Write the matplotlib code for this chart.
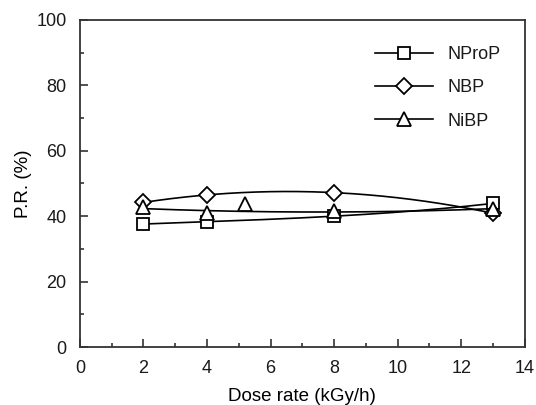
import numpy as np
import matplotlib.pyplot as plt
from matplotlib.ticker import MultipleLocator

plt.rcParams['font.family'] = ['Liberation Sans', 'DejaVu Sans']
plt.rcParams['font.size'] = 13
plt.rcParams['text.color'] = '#1a1a1a'
plt.rcParams['xtick.labelcolor'] = '#1a1a1a'
plt.rcParams['ytick.labelcolor'] = '#1a1a1a'

# dose rate (kGy/h) and P.R. (%)
x_nprop = [2, 4, 8, 13]
y_nprop = [37.6, 38.3, 40.0, 43.9]

x_nbp = [2, 4, 8, 13]
y_nbp = [44.2, 46.5, 47.2, 40.9]

x_nibp = [2, 4, 5.2, 8, 13]
y_nibp = [42.7, 41.0, 43.7, 41.7, 42.2]

series = [('NProP', x_nprop, y_nprop, 's', 9, 3),
          ('NBP', x_nbp, y_nbp, 'D', 8, 3),
          ('NiBP', x_nibp, y_nibp, '^', 10, 2)]

fig = plt.figure(figsize=(5.36, 4.05), dpi=100)
ax = fig.add_axes([0.149, 0.143, 0.830, 0.808])

for name, xs, ys, mk, ms, deg in series:
    xs = np.array(xs, dtype=float)
    ys = np.array(ys, dtype=float)
    # smooth curve; the off-curve NiBP point at 5.2 is left out of the fit
    keep = xs != 5.2
    coef = np.polyfit(xs[keep], ys[keep], deg)
    xx = np.linspace(xs.min(), xs.max(), 200)
    ax.plot(xx, np.polyval(coef, xx), color='black', lw=1.2, zorder=2)
    ax.plot(xs, ys, linestyle='none', marker=mk, ms=ms, mfc='white',
            mec='black', mew=1.3, zorder=3)
    ax.plot([], [], color='black', lw=1.2, marker=mk, ms=ms, mfc='white',
            mec='black', mew=1.3, label=name)

ax.set_xlim(0, 14)
ax.set_ylim(0, 100)
ax.xaxis.set_major_locator(MultipleLocator(2))
ax.xaxis.set_minor_locator(MultipleLocator(1))
ax.yaxis.set_major_locator(MultipleLocator(20))
ax.yaxis.set_minor_locator(MultipleLocator(10))
ax.tick_params(which='both', direction='in', color='#333333', width=1.2,
               top=False, right=False)
ax.tick_params(which='major', length=6, pad=9.5)
ax.tick_params(which='minor', length=3)
for s in ax.spines.values():
    s.set_color('#333333')
    s.set_linewidth(1.3)

ax.set_xlabel('Dose rate (kGy/h)', labelpad=8, fontsize=13.5)
ax.set_ylabel('P.R. (%)', labelpad=3, fontsize=13.5)

ax.legend(loc='upper right', frameon=False, handlelength=3.2,
          handletextpad=0.8, labelspacing=0.9, borderaxespad=0.6,
          bbox_to_anchor=(0.986, 0.975))

fig.savefig('out.png', dpi=100)
